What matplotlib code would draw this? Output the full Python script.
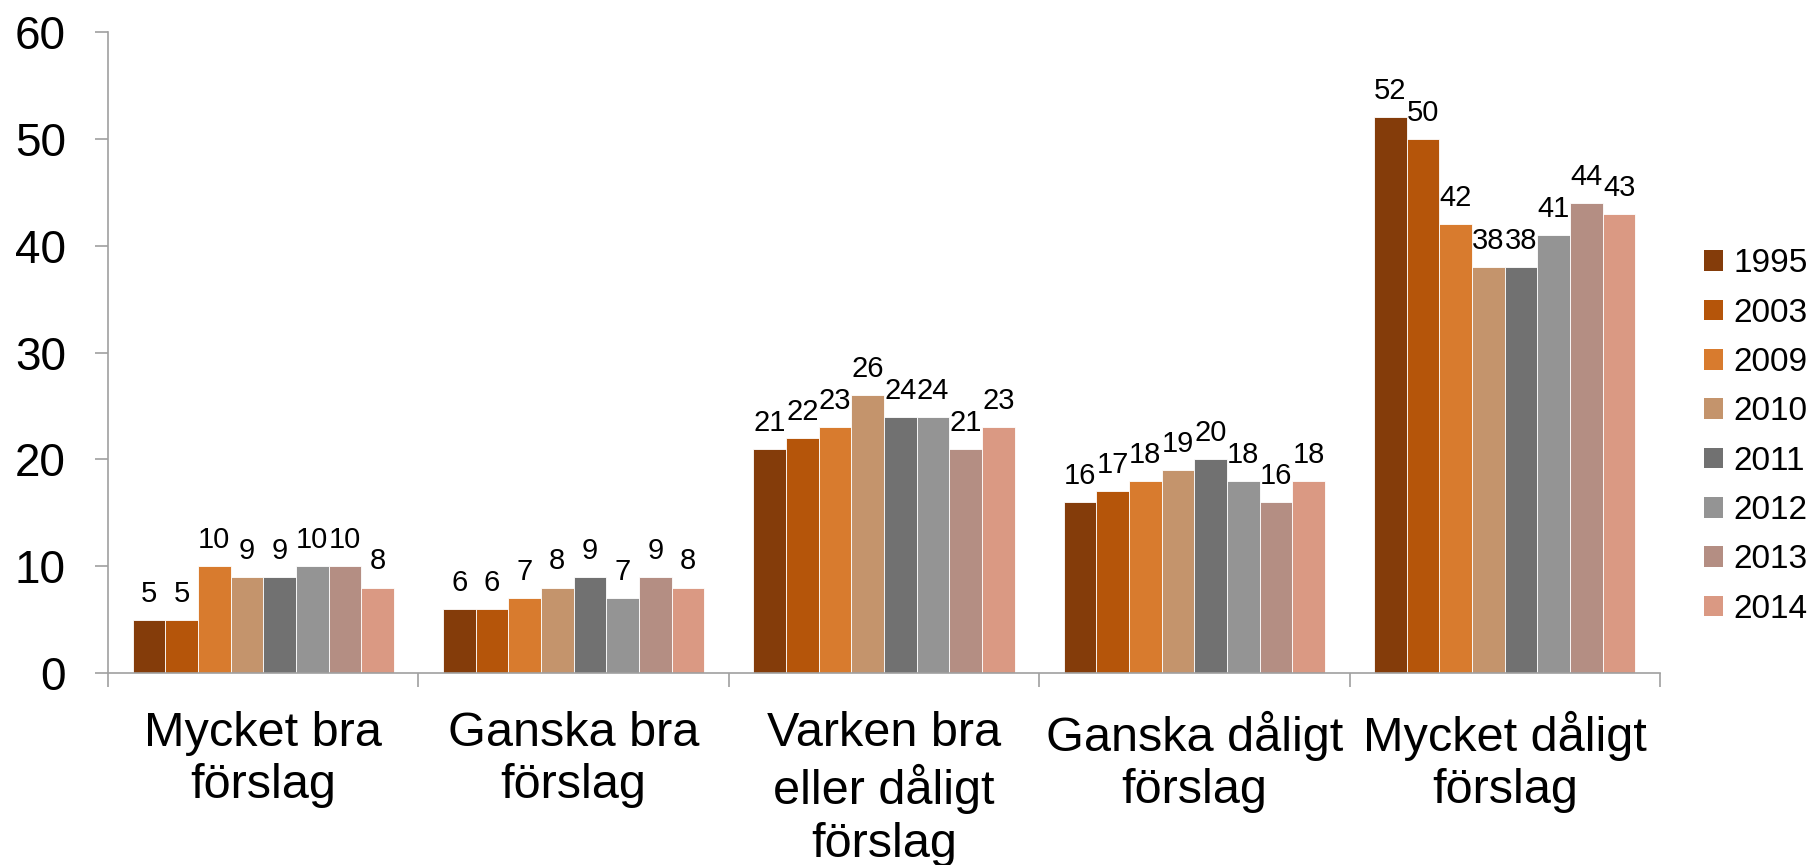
import matplotlib
matplotlib.use("Agg")
import matplotlib.pyplot as plt
from matplotlib.patches import Patch
import numpy as np

plt.rcParams['font.family'] = ['Liberation Sans', 'DejaVu Sans']

categories = ["Mycket bra\nförslag", "Ganska bra\nförslag", "Varken bra\neller dåligt\nförslag",
              "Ganska dåligt\nförslag", "Mycket dåligt\nförslag"]
years = ["1995", "2003", "2009", "2010", "2011", "2012", "2013", "2014"]
values = {
    "1995": [5, 6, 21, 16, 52],
    "2003": [5, 6, 22, 17, 50],
    "2009": [10, 7, 23, 18, 42],
    "2010": [9, 8, 26, 19, 38],
    "2011": [9, 9, 24, 20, 38],
    "2012": [10, 7, 24, 18, 41],
    "2013": [10, 9, 21, 16, 44],
    "2014": [8, 8, 23, 18, 43],
}
colors = ["#843C0A", "#B5550A", "#D87B2E", "#C4946C", "#717171", "#949494", "#B48E83", "#DA9983"]

fig = plt.figure(figsize=(18.18, 8.65), dpi=100)
ax = fig.add_axes([108/1818, 1-673/865, (1660-108)/1818, (673-32)/865])

x = np.arange(len(categories))
w = 0.842 / len(years)
for i, (yr, c) in enumerate(zip(years, colors)):
    pos = x - 0.421 + w * (i + 0.5)
    ax.bar(pos, values[yr], width=w, color=c, edgecolor='#FFFFFF', linewidth=0.6, label=yr)
    for p, v in zip(pos, values[yr]):
        ax.annotate(str(v), (p, v), xytext=(0, 13), textcoords='offset points',
                    ha='center', va='baseline', fontsize=21)

ax.set_xlim(-0.5, len(categories) - 0.5)
ax.set_ylim(0, 60)
ax.set_yticks(range(0, 61, 10))
ax.tick_params(axis='y', labelsize=33, length=9.4, width=1.2, color='#A0A0A0', pad=21)
ax.set_xticks(x)
ax.set_xticklabels(categories, fontsize=35, linespacing=1.22)
ax.tick_params(axis='x', which='major', length=0, pad=27)
ax.set_xticks(np.arange(-0.5, len(categories)), minor=True)
ax.tick_params(axis='x', which='minor', length=10, width=1.2, color='#A0A0A0')
for s in ['top', 'right']:
    ax.spines[s].set_visible(False)
for s in ['left', 'bottom']:
    ax.spines[s].set_color('#A0A0A0')
    ax.spines[s].set_linewidth(1.2)

handles = [Patch(facecolor=c, edgecolor='none') for c in colors]
fig.legend(handles, years, loc='center left', bbox_to_anchor=(1704/1818, 1-436.5/865),
           frameon=False, fontsize=24, handlelength=0.58, handleheight=0.58,
           handletextpad=0.3, labelspacing=0.55, borderpad=0, borderaxespad=0)

fig.savefig("out.png", dpi=100)
